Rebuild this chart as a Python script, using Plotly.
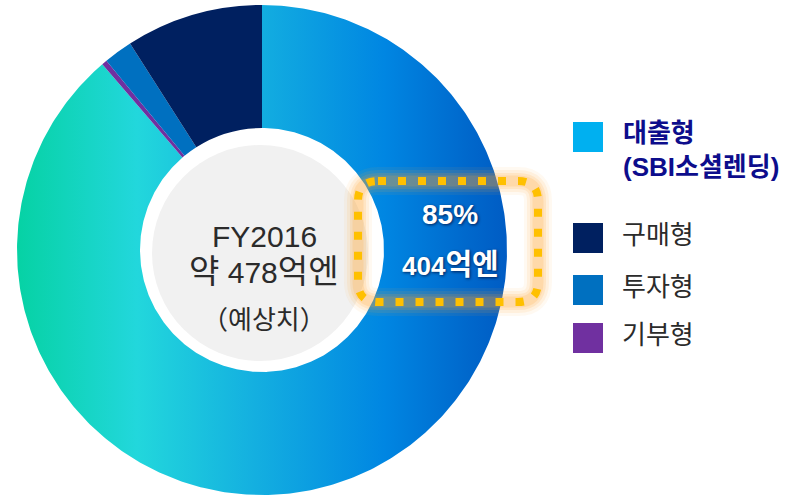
import numpy as np
import plotly.graph_objects as go

# ---------------- data ----------------
segments = ["대출형", "기부형", "투자형", "구매형"]          # pie order, clockwise from 12 o'clock
shares = [88.7, 0.35, 1.9, 9.05]                             # share of the ring as drawn (%)
slice_colors = ["rgba(0,0,0,0)", "#7030A0", "#0070C0", "#002060"]

legend_labels = ["대출형<br>(SBI소셜렌딩)", "구매형", "투자형", "기부형"]
legend_colors = ["#00B0F0", "#002060", "#0070C0", "#7030A0"]

center_lines = ["FY2016",
                "<span style='font-size:33px'>약</span> 478<span style='font-size:33px'>억엔</span>",
                "（예상치）"]
highlight_lines = ["85%", "404<span style='font-size:29px'>억엔</span>"]

# ---------------- geometry (pixels) ----------------
W, H = 792, 499
CX, CY, R = 262, 250, 245
HOLE_R = 122


def px(x):
    return (x - CX) / R


def py(y):
    return (CY - y) / R


FONT = "Liberation Sans, Arial, Noto Sans CJK KR, sans-serif"

fig = go.Figure()

# gradient fill for the lending slice, computed from the share values
total = float(sum(shares))
theta_end = 2 * np.pi * shares[0] / total
th = np.linspace(0, theta_end, 500)
r_in = HOLE_R / R
xs = np.concatenate([np.sin(th), r_in * np.sin(th[::-1])])
ys = np.concatenate([np.cos(th), r_in * np.cos(th[::-1])])
xs = np.append(xs, xs[0])
ys = np.append(ys, ys[0])
fig.add_trace(go.Scatter(
    x=xs, y=ys, mode="lines", fill="toself",
    line=dict(width=0, color="rgba(0,0,0,0)"),
    fillgradient=dict(
        type="horizontal",
        colorscale=[[0.0, "#06d2a4"], [0.245, "#22d7dc"], [0.48, "#14b0e0"],
                    [0.75, "#0086e2"], [0.92, "#0068cc"], [1.0, "#005cc4"]],
        start=-1, stop=1),
    hoverinfo="skip", showlegend=False,
))

# the donut itself
fig.add_trace(go.Pie(
    labels=segments, values=shares, sort=False, direction="clockwise", rotation=0,
    hole=HOLE_R / R,
    marker=dict(colors=slice_colors, line=dict(width=0)),
    textinfo="none", showlegend=False,
    domain=dict(x=[(CX - R) / W, (CX + R) / W], y=[(H - CY - R) / H, (H - CY + R) / H]),
))

shapes = []
# grey centre disc
GX, GY, GR = 260, 253, 108
shapes.append(dict(type="circle", xref="x", yref="y",
                   x0=px(GX - GR), x1=px(GX + GR), y0=py(GY + GR), y1=py(GY - GR),
                   fillcolor="#f1f1f1", line=dict(width=0), layer="above"))

# rounded dotted highlight rectangle
x0, x1, y0, y1, rr = 358, 538, 181, 302, 20


def P(x, y):
    return f"{px(x):.5f},{py(y):.5f}"


path = (f"M {P(x0 + rr, y0)} L {P(x1 - rr, y0)} Q {P(x1, y0)} {P(x1, y0 + rr)} "
        f"L {P(x1, y1 - rr)} Q {P(x1, y1)} {P(x1 - rr, y1)} "
        f"L {P(x0 + rr, y1)} Q {P(x0, y1)} {P(x0, y1 - rr)} "
        f"L {P(x0, y0 + rr)} Q {P(x0, y0)} {P(x0 + rr, y0)} Z")
for wdt, alpha in [(28, 0.07), (22, 0.10), (16, 0.14), (11, 0.18)]:
    shapes.append(dict(type="path", path=path, xref="x", yref="y",
                       line=dict(color=f"rgba(255,165,50,{alpha})", width=wdt), layer="above"))
shapes.append(dict(type="path", path=path, xref="x", yref="y",
                   line=dict(color="#ffc000", width=8, dash="8px,12px"), layer="above"))

annotations = []
# centre text
for txt, yy, fs in zip(center_lines, [236, 271, 320], [30, 30, 26]):
    annotations.append(dict(x=px(264), y=py(yy), xref="x", yref="y", text=txt,
                            showarrow=False, xanchor="center", yanchor="middle",
                            font=dict(family=FONT, size=fs, color="#2b2b2b")))
# highlight text
for txt, yy, fs in zip(highlight_lines, [214, 265], [28, 26]):
    annotations.append(dict(x=px(450), y=py(yy), xref="x", yref="y", text="<b>" + txt + "</b>",
                            showarrow=False, xanchor="center", yanchor="middle",
                            font=dict(family=FONT, size=fs, color="white",
                                      shadow="1px 1px 3px rgba(0,0,40,0.7)")))

# legend
leg_y = [137, 238, 290, 338]
for i, (lab, col, yy) in enumerate(zip(legend_labels, legend_colors, leg_y)):
    shapes.append(dict(type="rect", xref="x", yref="y",
                       x0=px(573), x1=px(603), y0=py(yy + 15), y1=py(yy - 15),
                       fillcolor=col, line=dict(width=0), layer="above"))
    if i == 0:
        annotations.append(dict(x=px(621), y=py(150), xref="x", yref="y",
                                text="<b>" + lab + "</b>", showarrow=False,
                                xanchor="left", yanchor="middle", align="left",
                                font=dict(family=FONT, size=26, color="#0d0d8c")))
    else:
        annotations.append(dict(x=px(620), y=py(yy - 3), xref="x", yref="y",
                                text=lab, showarrow=False,
                                xanchor="left", yanchor="middle", align="left",
                                font=dict(family=FONT, size=26, color="#2b2b2b")))

fig.update_layout(
    width=W, height=H, margin=dict(l=0, r=0, t=0, b=0),
    paper_bgcolor="white", plot_bgcolor="white",
    xaxis=dict(range=[px(0), px(W)], visible=False, fixedrange=True, domain=[0, 1]),
    yaxis=dict(range=[py(H), py(0)], visible=False, fixedrange=True, domain=[0, 1]),
    shapes=shapes, annotations=annotations, showlegend=False,
)

fig.write_html("out.html", config={"displayModeBar": False},
               post_script="document.body.style.margin='0';document.body.style.overflow='hidden';")
